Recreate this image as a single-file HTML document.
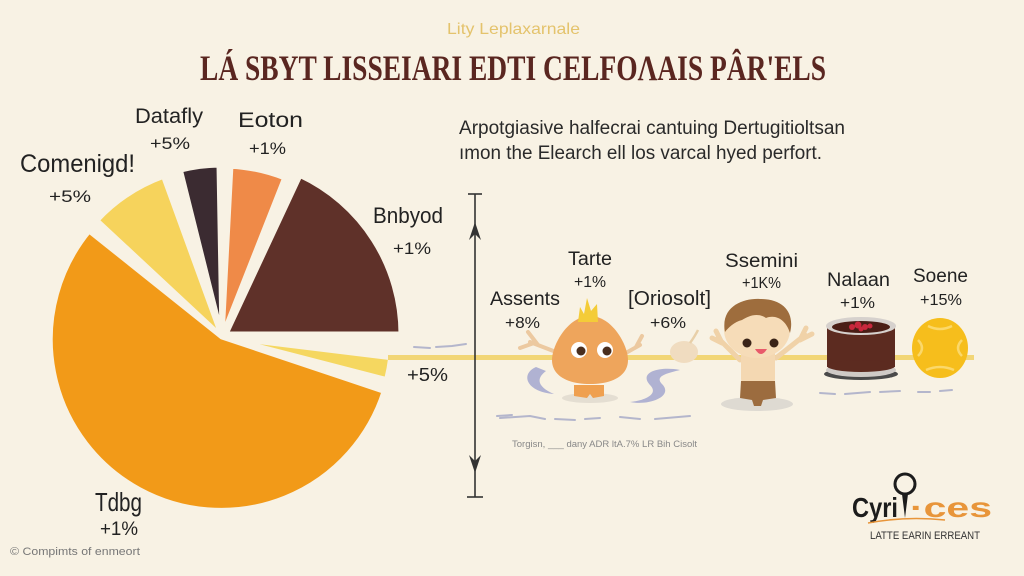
<!DOCTYPE html>
<html><head><meta charset="utf-8"><style>
html,body{margin:0;padding:0;background:#f8f2e4;}
svg{display:block;}
text{font-family:"Liberation Sans","DejaVu Sans",sans-serif;}
</style></head><body>
<svg width="1024" height="576" viewBox="0 0 1024 576" xmlns="http://www.w3.org/2000/svg">
<rect width="1024" height="576" fill="#f8f2e4"/>

<!-- header -->
<text x="447" y="34" font-size="16" fill="#e4c36c" textLength="133" lengthAdjust="spacingAndGlyphs">Lity Leplaxarnale</text>
<text x="200" y="80" font-size="36" font-weight="bold" fill="#5a2620" style="font-family:'Liberation Serif',serif" textLength="626" lengthAdjust="spacingAndGlyphs">LÁ SBYT LISSEIARI EDTI  CELFOΛAIS PÂR'ELS</text>
<text x="459" y="134" font-size="19" fill="#2a2a2a" textLength="386" lengthAdjust="spacingAndGlyphs">Arpotgiasive halfecrai cantuing Dertugitioltsan</text>
<text x="459" y="159" font-size="19" fill="#2a2a2a" textLength="363" lengthAdjust="spacingAndGlyphs">ımon the Elearch ell los varcal hyed perfort.</text>

<!-- pie -->
<g stroke="#f8f2e4" stroke-width="5" stroke-linejoin="round">
<path d="M222,337 L96.9,220.4 A171,171 0 0 1 163.5,176.3 Z" fill="#f6d35c"/>
<path d="M222,337 L180.4,170.1 A172,172 0 0 1 219,165 Z" fill="#3b2b31"/>
<path d="M222,337 L230.9,166.2 A171,171 0 0 1 284.7,177.9 Z" fill="#ef8a48"/>
<path d="M226,334 L300,175.4 A175,175 0 0 1 401,334 Z" fill="#5f3129"/>
<path d="M222,337 L390.7,357.7 A170,170 0 0 1 386.6,379.6 Z" fill="#f5d760"/>
<path d="M222,337 L384.2,391.3 A171,171 0 1 1 89.1,230.9 Z" fill="#f29a18"/>
</g>

<!-- pie labels -->
<g fill="#222">
<text x="135" y="123" font-size="21" textLength="68" lengthAdjust="spacingAndGlyphs">Datafly</text>
<text x="150" y="149" font-size="17" textLength="40" lengthAdjust="spacingAndGlyphs">+5%</text>
<text x="238" y="127" font-size="21" textLength="65" lengthAdjust="spacingAndGlyphs">Eoton</text>
<text x="249" y="154" font-size="17" textLength="37" lengthAdjust="spacingAndGlyphs">+1%</text>
<text x="20" y="172" font-size="25" textLength="115" lengthAdjust="spacingAndGlyphs">Comenigd!</text>
<text x="49" y="202" font-size="17" textLength="42" lengthAdjust="spacingAndGlyphs">+5%</text>
<text x="373" y="223" font-size="22" textLength="70" lengthAdjust="spacingAndGlyphs">Bnbyod</text>
<text x="393" y="254" font-size="17" textLength="38" lengthAdjust="spacingAndGlyphs">+1%</text>
<text x="407" y="381" font-size="18" textLength="41" lengthAdjust="spacingAndGlyphs">+5%</text>
<text x="95" y="511" font-size="26" textLength="47" lengthAdjust="spacingAndGlyphs">Tdbg</text>
<text x="100" y="535" font-size="19" textLength="38" lengthAdjust="spacingAndGlyphs">+1%</text>
</g>
<text x="10" y="555" font-size="11" fill="#777" textLength="130" lengthAdjust="spacingAndGlyphs">© Compimts of enmeort</text>

<!-- yellow band -->
<rect x="388" y="355" width="586" height="5" fill="#f2d676"/>

<!-- vertical axis -->
<g stroke="#333" stroke-width="1.6" fill="none">
<line x1="475" y1="194" x2="475" y2="497"/>
<line x1="468" y1="194" x2="482" y2="194"/>
<line x1="467" y1="497" x2="483" y2="497"/>
</g>
<path d="M475,222 L481,240 L475,234 L469,240 Z" fill="#333"/>
<path d="M475,473 L481,455 L475,461 L469,455 Z" fill="#333"/>

<!-- scribbles -->
<g stroke="#b4b6cc" stroke-width="2" fill="none" stroke-linecap="round">
<path d="M414,347 L430,348 M436,347 L452,346 L466,344"/>
<path d="M497,416 L512,415"/>
<path d="M500,418 L530,416 L545,419 M555,419 L575,420 M585,419 L600,418 M620,417 L640,419 M655,419 L690,416"/>
<path d="M820,393 L835,394 M845,394 L870,392 M880,392 L900,391 M918,392 L930,392 M940,391 L952,390"/>
</g>
<text x="512" y="447" font-size="9" fill="#888" textLength="185" lengthAdjust="spacingAndGlyphs">Torgisn, ___ dany ADR ltA.7% LR Bih Cisolt</text>

<!-- right labels -->
<g fill="#222">
<text x="568" y="265" font-size="19" textLength="44" lengthAdjust="spacingAndGlyphs">Tarte</text>
<text x="574" y="287" font-size="16" textLength="32" lengthAdjust="spacingAndGlyphs">+1%</text>
<text x="490" y="305" font-size="19" textLength="70" lengthAdjust="spacingAndGlyphs">Assents</text>
<text x="505" y="328" font-size="16" textLength="35" lengthAdjust="spacingAndGlyphs">+8%</text>
<text x="628" y="305" font-size="20" textLength="83" lengthAdjust="spacingAndGlyphs">[Oriosolt]</text>
<text x="650" y="328" font-size="16" textLength="36" lengthAdjust="spacingAndGlyphs">+6%</text>
<text x="725" y="267" font-size="19" textLength="73" lengthAdjust="spacingAndGlyphs">Ssemini</text>
<text x="742" y="288" font-size="16" textLength="39" lengthAdjust="spacingAndGlyphs">+1K%</text>
<text x="827" y="286" font-size="19" textLength="63" lengthAdjust="spacingAndGlyphs">Nalaan</text>
<text x="840" y="308" font-size="16" textLength="35" lengthAdjust="spacingAndGlyphs">+1%</text>
<text x="913" y="282" font-size="19" textLength="55" lengthAdjust="spacingAndGlyphs">Soene</text>
<text x="920" y="305" font-size="16" textLength="42" lengthAdjust="spacingAndGlyphs">+15%</text>
</g>

<!-- blob character -->
<ellipse cx="590" cy="398" rx="28" ry="5" fill="#e4ded2"/>
<g stroke="#ecc9a0" stroke-width="4" stroke-linecap="round" fill="none">
<path d="M556,352 L530,342 M538,345 L528,332 M534,343 L520,348"/>
<path d="M624,354 L640,345 M636,347 L642,336"/>
</g>
<path d="M536,367 C520,374 526,392 554,394 C540,388 534,380 546,371 Z" fill="#b0b2d2"/>
<path d="M680,370 C660,366 638,372 650,385 C660,395 642,401 630,402 C650,406 674,396 662,384 C654,376 668,373 680,370 Z" fill="#b0b2d2"/>
<ellipse cx="684" cy="352" rx="14" ry="11" fill="#f0dcc0"/>
<path d="M690,343 Q695,336 698,330" stroke="#e8cfa8" stroke-width="2.5" fill="none"/>
<path d="M574,382 L604,382 L604,396 L593,398 L590,394 L587,398 L574,396 Z" fill="#efa050"/>
<rect x="574" y="381" width="30" height="4" fill="#fbf3e6"/>
<path d="M590,316 C612,316 628,345 628,360 C628,376 612,384 590,384 C568,384 552,376 552,360 C552,345 568,316 590,316 Z" fill="#eea55c"/>
<polygon points="578,322 580,307 584,314 587,298 591,311 597,304 598,322" fill="#f4cc38"/>
<circle cx="579" cy="350" r="8" fill="#fff"/>
<circle cx="605" cy="350" r="8" fill="#fff"/>
<circle cx="581" cy="351" r="4.5" fill="#4a2e1e"/>
<circle cx="607" cy="351" r="4.5" fill="#4a2e1e"/>

<!-- boy -->
<ellipse cx="757" cy="404" rx="36" ry="7" fill="#dedad2"/>
<g stroke="#f0d2a8" stroke-width="5" stroke-linecap="round" fill="none">
<path d="M740,360 L718,338 M722,343 L712,338 M722,343 L716,331"/>
<path d="M776,358 L805,335 M800,340 L812,334 M800,340 L806,328"/>
</g>
<rect x="741" y="345" width="34" height="40" rx="6" fill="#f4d8b2"/>
<path d="M741,381 L775,381 L776,398 L763,400 L761,406 L754,406 L752,400 L740,398 Z" fill="#9c6c3f"/>
<ellipse cx="757" cy="330" rx="33" ry="28" fill="#f6dcb8"/>
<path d="M725,332 C720,306 744,298 760,299 C784,299 795,313 790,333 C786,320 776,314 766,318 C758,312 748,316 742,320 C734,322 728,328 725,332 Z" fill="#9e6d3d"/>
<circle cx="747" cy="343" r="4.5" fill="#3a2418"/>
<circle cx="774" cy="343" r="4.5" fill="#3a2418"/>
<path d="M755,349 Q761,359 767,349 Z" fill="#e85a6a"/>

<!-- cake -->
<ellipse cx="861" cy="374" rx="37" ry="6" fill="#4a4a4a"/>
<ellipse cx="861" cy="370" rx="35" ry="7" fill="#cfcac6"/>
<rect x="827" y="326" width="68" height="41" fill="#5c2b20"/>
<ellipse cx="861" cy="366" rx="34" ry="6" fill="#5c2b20"/>
<ellipse cx="861" cy="326" rx="35" ry="9" fill="#d6d1cd"/>
<ellipse cx="861" cy="327" rx="29" ry="6" fill="#4a1e16"/>
<g fill="#c8283c">
<circle cx="852" cy="327" r="3"/><circle cx="858" cy="325" r="3.5"/><circle cx="865" cy="327" r="3"/><circle cx="870" cy="326" r="2.5"/><circle cx="861" cy="329" r="2.5"/>
</g>

<!-- sun -->
<ellipse cx="940" cy="348" rx="28" ry="30" fill="#f6be1c"/>
<g stroke="#fbd86a" stroke-width="2.5" fill="none">
<path d="M928,326 Q940,332 952,326"/>
<path d="M926,370 Q940,364 954,370"/>
<path d="M918,340 Q926,348 918,356"/>
<path d="M962,340 Q954,348 962,356"/>
</g>

<!-- logo -->
<text x="852" y="517" font-size="28" font-weight="bold" fill="#1c1c1c" textLength="46" lengthAdjust="spacingAndGlyphs">Cyri</text>
<circle cx="905" cy="484" r="10" fill="#f8f2e4" stroke="#1c1c1c" stroke-width="3"/>
<path d="M902,494 L908,494 L905,518 Z" fill="#1c1c1c"/>
<text x="910" y="517" font-size="28" font-weight="bold" fill="#e8953a" textLength="82" lengthAdjust="spacingAndGlyphs">·ces</text>
<path d="M868,523 Q905,516 945,520" stroke="#e8953a" stroke-width="1.5" fill="none"/>
<text x="870" y="539" font-size="11" fill="#333" textLength="110" lengthAdjust="spacingAndGlyphs">LATTE EARIN ERREANT</text>
</svg>
</body></html>
